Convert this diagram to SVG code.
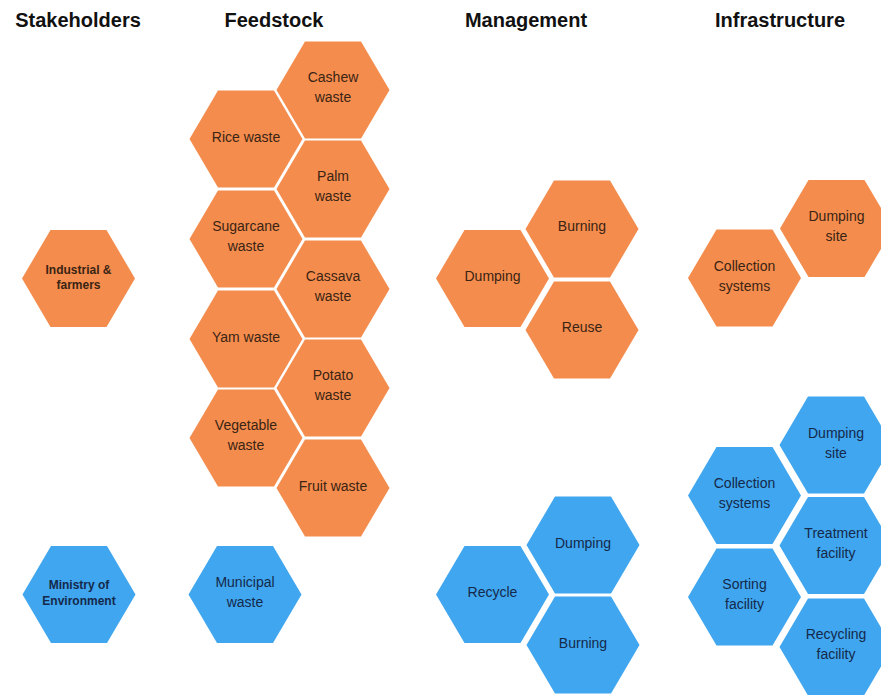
<svg xmlns="http://www.w3.org/2000/svg" xmlns:xlink="http://www.w3.org/1999/xlink" width="881" height="695" viewBox="0 0 881 695">
<style>
.title{font-family:"Liberation Sans",Arial,sans-serif;font-weight:bold;font-size:20px;fill:#111;text-anchor:middle}
.o{fill:#F48C4D}
.b{fill:#3FA6EF}
.t{font-family:"Liberation Sans",Arial,sans-serif;font-size:14px;text-anchor:middle}
.to{fill:#3a2414}
.tb{fill:#15294a}
.s{font-family:"Liberation Sans",Arial,sans-serif;font-size:12px;font-weight:bold;text-anchor:middle}
</style>
<defs>
<polygon id="hex" points="-56.5,0 -28,-48.5 28,-48.5 56.5,0 28,48.5 -28,48.5"/>
</defs>
<rect width="881" height="695" fill="#ffffff"/>
<g id="titles">
<text class="title" x="78" y="27">Stakeholders</text>
<text class="title" x="274" y="27">Feedstock</text>
<text class="title" x="526" y="27">Management</text>
<text class="title" x="780" y="27">Infrastructure</text>
</g>
<g id="industrial"><use xlink:href="#hex" class="o" x="78.5" y="278.5"/><text class="s to" x="78.5" y="273.5">Industrial &amp;</text><text class="s to" x="78.5" y="289">farmers</text></g>
<g id="cashew"><use xlink:href="#hex" class="o" x="333" y="90"/><text class="t to" x="333" y="82">Cashew</text><text class="t to" x="333" y="102">waste</text></g>
<g id="rice"><use xlink:href="#hex" class="o" x="246" y="139"/><text class="t to" x="246" y="142">Rice waste</text></g>
<g id="palm"><use xlink:href="#hex" class="o" x="333" y="189"/><text class="t to" x="333" y="181">Palm</text><text class="t to" x="333" y="201">waste</text></g>
<g id="sugarcane"><use xlink:href="#hex" class="o" x="246" y="239"/><text class="t to" x="246" y="231">Sugarcane</text><text class="t to" x="246" y="251">waste</text></g>
<g id="cassava"><use xlink:href="#hex" class="o" x="333" y="289"/><text class="t to" x="333" y="281">Cassava</text><text class="t to" x="333" y="301">waste</text></g>
<g id="yam"><use xlink:href="#hex" class="o" x="246" y="339"/><text class="t to" x="246" y="342">Yam waste</text></g>
<g id="potato"><use xlink:href="#hex" class="o" x="333" y="388"/><text class="t to" x="333" y="380">Potato</text><text class="t to" x="333" y="400">waste</text></g>
<g id="vegetable"><use xlink:href="#hex" class="o" x="246" y="438"/><text class="t to" x="246" y="430">Vegetable</text><text class="t to" x="246" y="450">waste</text></g>
<g id="fruit"><use xlink:href="#hex" class="o" x="333" y="488"/><text class="t to" x="333" y="491">Fruit waste</text></g>
<g id="mgmt-burning"><use xlink:href="#hex" class="o" x="582" y="229"/><text class="t to" x="582" y="231">Burning</text></g>
<g id="mgmt-dumping"><use xlink:href="#hex" class="o" x="492.5" y="278.5"/><text class="t to" x="492.5" y="281">Dumping</text></g>
<g id="mgmt-reuse"><use xlink:href="#hex" class="o" x="582" y="330"/><text class="t to" x="582" y="332">Reuse</text></g>
<g id="infra-dumping-site"><use xlink:href="#hex" class="o" x="836.5" y="228.5"/><text class="t to" x="836.5" y="221">Dumping</text><text class="t to" x="836.5" y="241">site</text></g>
<g id="infra-collection"><use xlink:href="#hex" class="o" x="744.5" y="278"/><text class="t to" x="744.5" y="271">Collection</text><text class="t to" x="744.5" y="291">systems</text></g>
<g id="ministry"><use xlink:href="#hex" class="b" x="79" y="594.5"/><text class="s tb" x="79" y="589">Ministry of</text><text class="s tb" x="79" y="605">Environment</text></g>
<g id="municipal"><use xlink:href="#hex" class="b" x="245" y="594.5"/><text class="t tb" x="245" y="587">Municipal</text><text class="t tb" x="245" y="607">waste</text></g>
<g id="b-dumping"><use xlink:href="#hex" class="b" x="583" y="545"/><text class="t tb" x="583" y="548">Dumping</text></g>
<g id="b-recycle"><use xlink:href="#hex" class="b" x="492.5" y="594.5"/><text class="t tb" x="492.5" y="597">Recycle</text></g>
<g id="b-burning"><use xlink:href="#hex" class="b" x="583" y="645"/><text class="t tb" x="583" y="648">Burning</text></g>
<g id="b-dumping-site"><use xlink:href="#hex" class="b" x="836" y="445"/><text class="t tb" x="836" y="438">Dumping</text><text class="t tb" x="836" y="458">site</text></g>
<g id="b-collection"><use xlink:href="#hex" class="b" x="744.5" y="495.5"/><text class="t tb" x="744.5" y="488">Collection</text><text class="t tb" x="744.5" y="508">systems</text></g>
<g id="b-treatment"><use xlink:href="#hex" class="b" x="836" y="545.5"/><text class="t tb" x="836" y="538">Treatment</text><text class="t tb" x="836" y="558">facility</text></g>
<g id="b-sorting"><use xlink:href="#hex" class="b" x="744.5" y="597"/><text class="t tb" x="744.5" y="589">Sorting</text><text class="t tb" x="744.5" y="609">facility</text></g>
<g id="b-recycling"><use xlink:href="#hex" class="b" x="836" y="647"/><text class="t tb" x="836" y="639">Recycling</text><text class="t tb" x="836" y="659">facility</text></g>
</svg>
